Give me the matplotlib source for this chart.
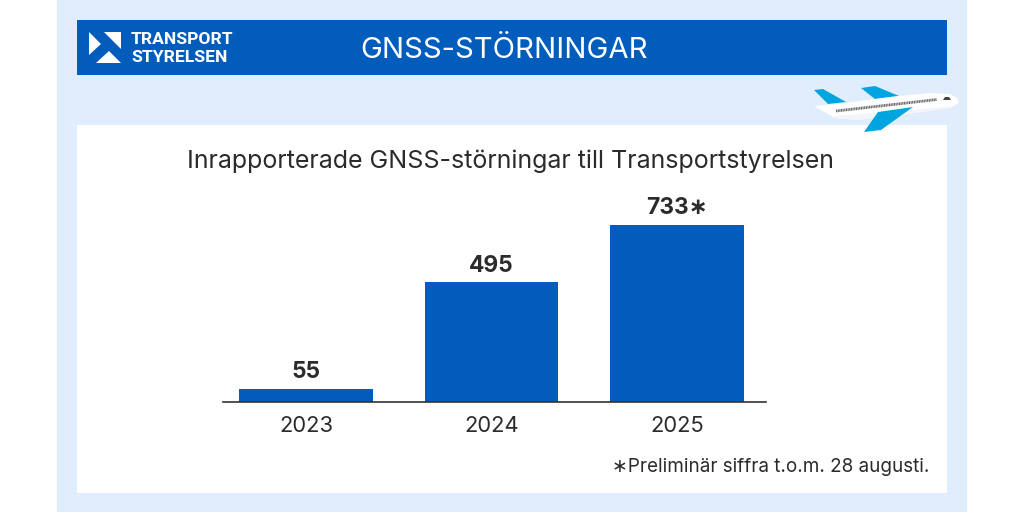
import matplotlib.pyplot as plt
from matplotlib.patches import Polygon, Rectangle

plt.rcParams['font.family'] = ['Inter', 'DejaVu Sans']

years = ['2023', '2024', '2025']
counts = [55, 495, 733]
bar_labels = ['55', '495', '733∗']

BLUE = '#015cbb'
LIGHT = '#e0edfc'
SKY = '#00a5e0'
DARK = '#2b2b2b'

fig = plt.figure(figsize=(10.24, 5.12), dpi=100, facecolor='white')

# background in pixel coordinates
bg = fig.add_axes([0, 0, 1, 1])
bg.set_xlim(0, 1024)
bg.set_ylim(512, 0)
bg.axis('off')
bg.add_patch(Rectangle((57, 0), 910, 512, color=LIGHT, lw=0))
bg.add_patch(Rectangle((77, 20), 870, 55, color=BLUE, lw=0))
bg.add_patch(Rectangle((77, 125), 870, 368, color='white', lw=0))

# logo
bg.add_patch(Polygon([(89, 32), (101, 44), (89, 55)], color='white', lw=0))
bg.add_patch(Polygon([(104, 32), (121, 32), (121, 49)], color='white', lw=0))
bg.add_patch(Polygon([(96, 63), (109, 51), (121, 63)], color='white', lw=0))
bg.text(131, 39.5, 'TRANSPORT', color='white', fontsize=12.6, fontweight='bold',
        va='center', ha='left', family='Roboto')
bg.text(131, 57, 'STYRELSEN', color='white', fontsize=12.6, fontweight='bold',
        va='center', ha='left', family='Roboto')

bg.text(504, 50.5, 'GNSS-STÖRNINGAR', color='white', fontsize=21.1, va='center', ha='center')
bg.text(510.5, 161, 'Inrapporterade GNSS-störningar till Transportstyrelsen', color=DARK,
        fontsize=18, va='center', ha='center')
bg.text(929, 467.5, '∗Preliminär siffra t.o.m. 28 augusti.', color=DARK, fontsize=13.6,
        va='center', ha='right')

# plane
bg.add_patch(Polygon([(814, 90), (823, 89), (846, 102), (828, 104)], color=SKY, lw=0))
bg.add_patch(Polygon([(861, 88), (875, 86), (899, 96), (875, 99)], color=SKY, lw=0))
bg.add_patch(Polygon([(814, 106), (846, 103), (890, 97), (930, 93), (950, 94), (957, 98), (959, 103),
                      (950, 108), (900, 115), (857, 120), (835, 118)], color='white', lw=0))
bg.add_patch(Polygon([(835, 116), (900, 111), (957, 106), (950, 108), (900, 115),
                      (857, 120), (835, 118)], color='#f4f4fb', lw=0))
bg.add_patch(Polygon([(878, 112), (913, 107), (881, 130), (864, 132)], color=SKY, lw=0))
bg.plot([836, 937], [111, 99.5], color='#666666', lw=2, ls=(0, (0.4, 0.2)))
bg.add_patch(Polygon([(943, 100), (945, 97), (949, 97), (951, 100)], color='#444444', lw=0))

# chart
ax = fig.add_axes([223 / 1024, (512 - 402) / 512, 543 / 1024, 202 / 512])
ax.patch.set_alpha(0)
bars = ax.bar(years, counts, width=0.72, color=BLUE)
ax.set_xlim(-0.447, 2.48)
ax.set_ylim(0, 836)
ax.set_yticks([])
for s in ['top', 'left', 'right']:
    ax.spines[s].set_visible(False)
ax.spines['bottom'].set_color('#333333')
ax.spines['bottom'].set_linewidth(1.2)
ax.tick_params(axis='x', length=0, pad=10, labelsize=15.8, labelcolor=DARK)
ax.bar_label(bars, labels=bar_labels, padding=4, fontsize=16.4, fontweight='bold', color=DARK)

fig.savefig('out.png', dpi=100)
plt.close()
